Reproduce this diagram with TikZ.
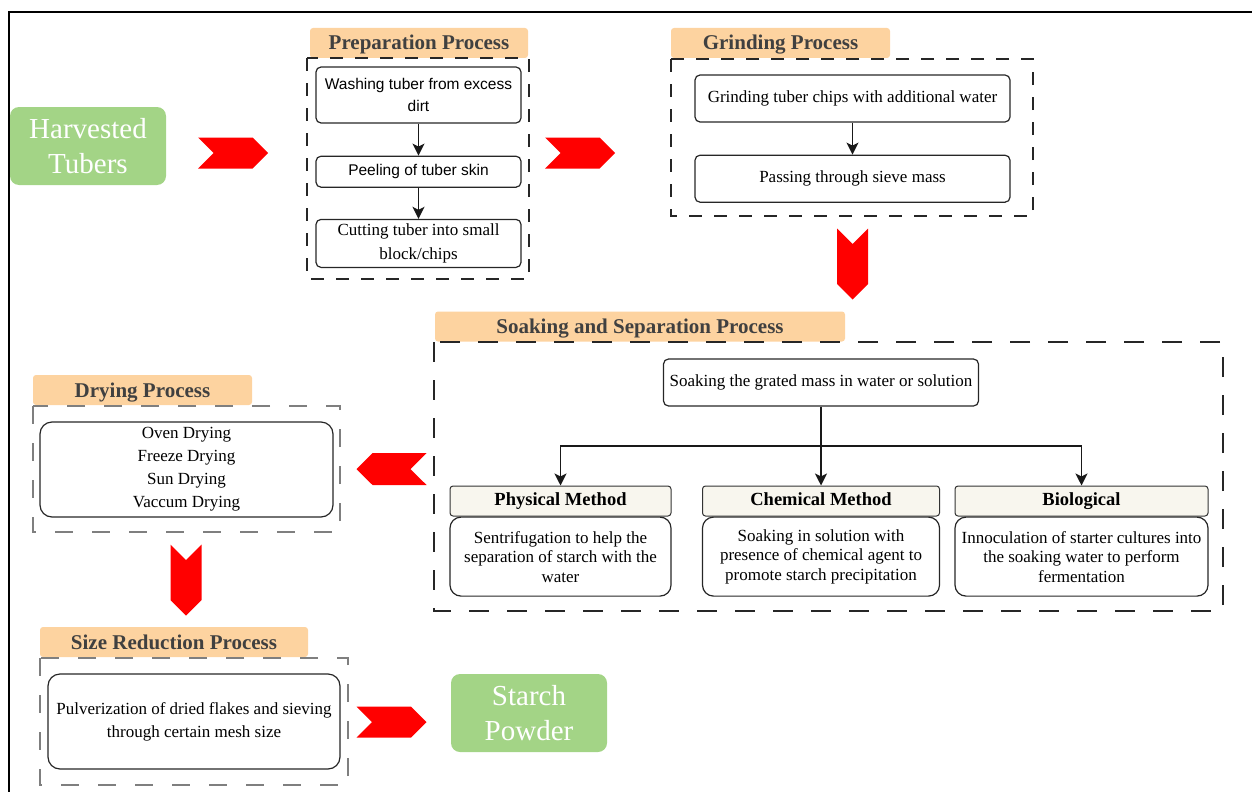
\documentclass[tikz,border=0pt]{standalone}
\usepackage{fontspec}
\setmainfont{Liberation Serif}
\newfontfamily\sanstext{Liberation Sans}
\usepackage{xcolor}
\usepackage{tikz}
\usetikzlibrary{
  arrows.meta,
  shapes.symbols,
  positioning,
  calc
}
\definecolor{spGreen}{HTML}{A3D486}
\definecolor{spPeach}{HTML}{FDD3A0}
\definecolor{spInk}{HTML}{404040}
\definecolor{spCream}{HTML}{F8F6EE}
\definecolor{spRed}{HTML}{FF0000}
\definecolor{spGray}{HTML}{7F7F7F}
\tikzset{
  spnode/.style={
    draw=black!85, line width=1.2pt, rounded corners=5pt, align=center, inner sep=2pt
  },
  sansstep/.style={spnode, font=\sanstext\fontsize{15.5}{22.5}\selectfont},
  serifstep/.style={spnode, font=\fontsize{17}{24}\selectfont},
  stagetitle/.style={
    fill=spPeach, rounded corners=3pt, minimum height=30pt, text=spInk,
    text height=16.5pt, text depth=2.5pt,
    font=\bfseries\fontsize{21}{25}\selectfont
  },
  endbox/.style={
    fill=spGreen, rounded corners=9pt, minimum width=156pt, minimum height=78pt,
    text=white, align=center, font=\fontsize{29}{35}\selectfont
  },
  methodhead/.style={
    draw=black!80, line width=1pt, fill=spCream, rounded corners=3pt,
    minimum height=30pt, text height=12.5pt, text depth=4pt,
    font=\bfseries\fontsize{18.5}{22}\selectfont
  },
  methodbody/.style={spnode, rounded corners=11pt, minimum height=79pt, font=\fontsize{17}{19.5}\selectfont},
  chevron/.style={signal, fill=spRed, draw=none, signal pointer angle=90, inner sep=0pt},
  chevright/.style={chevron, signal to=east, signal from=west, minimum width=70pt, minimum height=31pt},
  chevleft/.style={chevron, signal to=west, signal from=east, minimum width=70pt, minimum height=32pt},
  chevdown/.style={chevron, signal to=south, signal from=north, minimum width=31pt, minimum height=40pt},
  stageframe/.style={draw=black!85, line width=1.4pt, dash pattern=on 13pt off 12pt},
  wideframe/.style={stageframe, dash pattern=on 20pt off 18pt},
  grayframe/.style={draw=spGray, line width=1.4pt, dash pattern=on 18pt off 19pt},
  flow/.style={-{Stealth[length=12pt, width=12pt, inset=3pt]}, line width=1.5pt, black!90},
  branchline/.style={line width=1.5pt, black!90},
  frameline/.style={line width=1.6pt, black}
}

\begin{document}
\begin{tikzpicture}[x=1pt, y=-1pt]
  \useasboundingbox (0,0) rectangle (1252,792);
  % page frame, top and left edge only
  \draw[frameline] (1252,12) -- (9,12) -- (9,792);

  % Start and end products
  \node[endbox] (harvest) at (88,146) {Harvested\\Tubers};
  \node[endbox] (starch) at (529,713) {Starch\\Powder};

  % Preparation stage
  \node[stagetitle, minimum width=218pt] (preptitle) at (419,43) {Preparation Process};
  \draw[stageframe] (307,58) rectangle (529,279);
  \node[sansstep, minimum width=205pt, minimum height=56pt] (wash) at (418.5,95) {Washing tuber from excess\\dirt};
  \node[sansstep, below=32pt of wash, minimum width=205pt, minimum height=31pt] (peel) {Peeling of tuber skin};
  \node[serifstep, below=31pt of peel, minimum width=205pt, minimum height=48pt] (cut) {Cutting tuber into small\\block/chips};
  \draw[flow] (wash) -- (peel);
  \draw[flow] (peel) -- (cut);

  % Grinding stage
  \node[stagetitle, minimum width=219pt] (grindtitle) at (780.5,43) {Grinding Process};
  \draw[stageframe] (671,59) rectangle (1033,216);
  \node[serifstep, minimum width=315pt, minimum height=47pt] (grind) at (852.5,98.5) {Grinding tuber chips with additional water};
  \node[serifstep, below=32pt of grind, minimum width=315pt, minimum height=47pt] (sieve) {Passing through sieve mass};
  \draw[flow] (grind) -- (sieve);

  % Soaking and separation stage
  \node[stagetitle, minimum width=410pt] (soaktitle) at (640,326.5) {Soaking and Separation Process};
  \draw[wideframe] (434,342) rectangle (1223,611);
  \node[serifstep, minimum width=315pt, minimum height=47pt] (soak) at (821,382.5) {Soaking the grated mass in water or solution};
  \node[methodhead, minimum width=221pt] (physhead) at (560.5,501) {Physical Method};
  \node[methodhead, minimum width=237pt] (chemhead) at (821,501) {Chemical Method};
  \node[methodhead, minimum width=253pt] (biohead) at (1081.5,501) {Biological};
  \node[methodbody, below=0pt of physhead, minimum width=221pt] (phys) {Sentrifugation to help the\\separation of starch with the\\water};
  \node[methodbody, below=0pt of chemhead, minimum width=237pt] (chem) {Soaking in solution with\\presence of chemical agent to\\promote starch precipitation};
  \node[methodbody, below=0pt of biohead, minimum width=253pt] (bio) {Innoculation of starter cultures into\\the soaking water to perform\\fermentation};
  % branch to the three methods
  \coordinate (split) at (821,446);
  \draw[branchline] (soak.south) -- (split);
  \draw[flow] (split) -| (physhead.north);
  \draw[flow] (split) -- (chemhead.north);
  \draw[flow] (split) -| (biohead.north);

  % Drying stage
  \node[stagetitle, minimum width=219pt] (drytitle) at (142.5,390) {Drying Process};
  \draw[grayframe] (33,406) rectangle (340,532);
  \node[serifstep, rounded corners=12pt, minimum width=293pt, minimum height=95pt,
        font=\fontsize{17}{23}\selectfont] (dry) at (186.5,469.5) {Oven Drying\\Freeze Drying\\Sun Drying\\Vaccum Drying};

  % Size reduction stage
  \node[stagetitle, minimum width=268pt] (sizetitle) at (174,642) {Size Reduction Process};
  \draw[grayframe] (40,658) rectangle (348,785);
  \node[serifstep, rounded corners=12pt, minimum width=292pt, minimum height=95pt,
        font=\fontsize{17}{23}\selectfont] (pulver) at (194,721.5) {Pulverization of dried flakes and sieving\\through certain mesh size};

  % Red block arrows between stages
  \node[chevright] (chev1) at (233,153) {};
  \node[chevright] (chev2) at (580,153) {};
  \node[chevdown] (chev3) at (852.5,264) {};
  \node[chevleft] (chev4) at (391.5,469) {};
  \node[chevdown] (chev5) at (186,580) {};
  \node[chevright] (chev6) at (391.5,722) {};
\end{tikzpicture}
\end{document}
